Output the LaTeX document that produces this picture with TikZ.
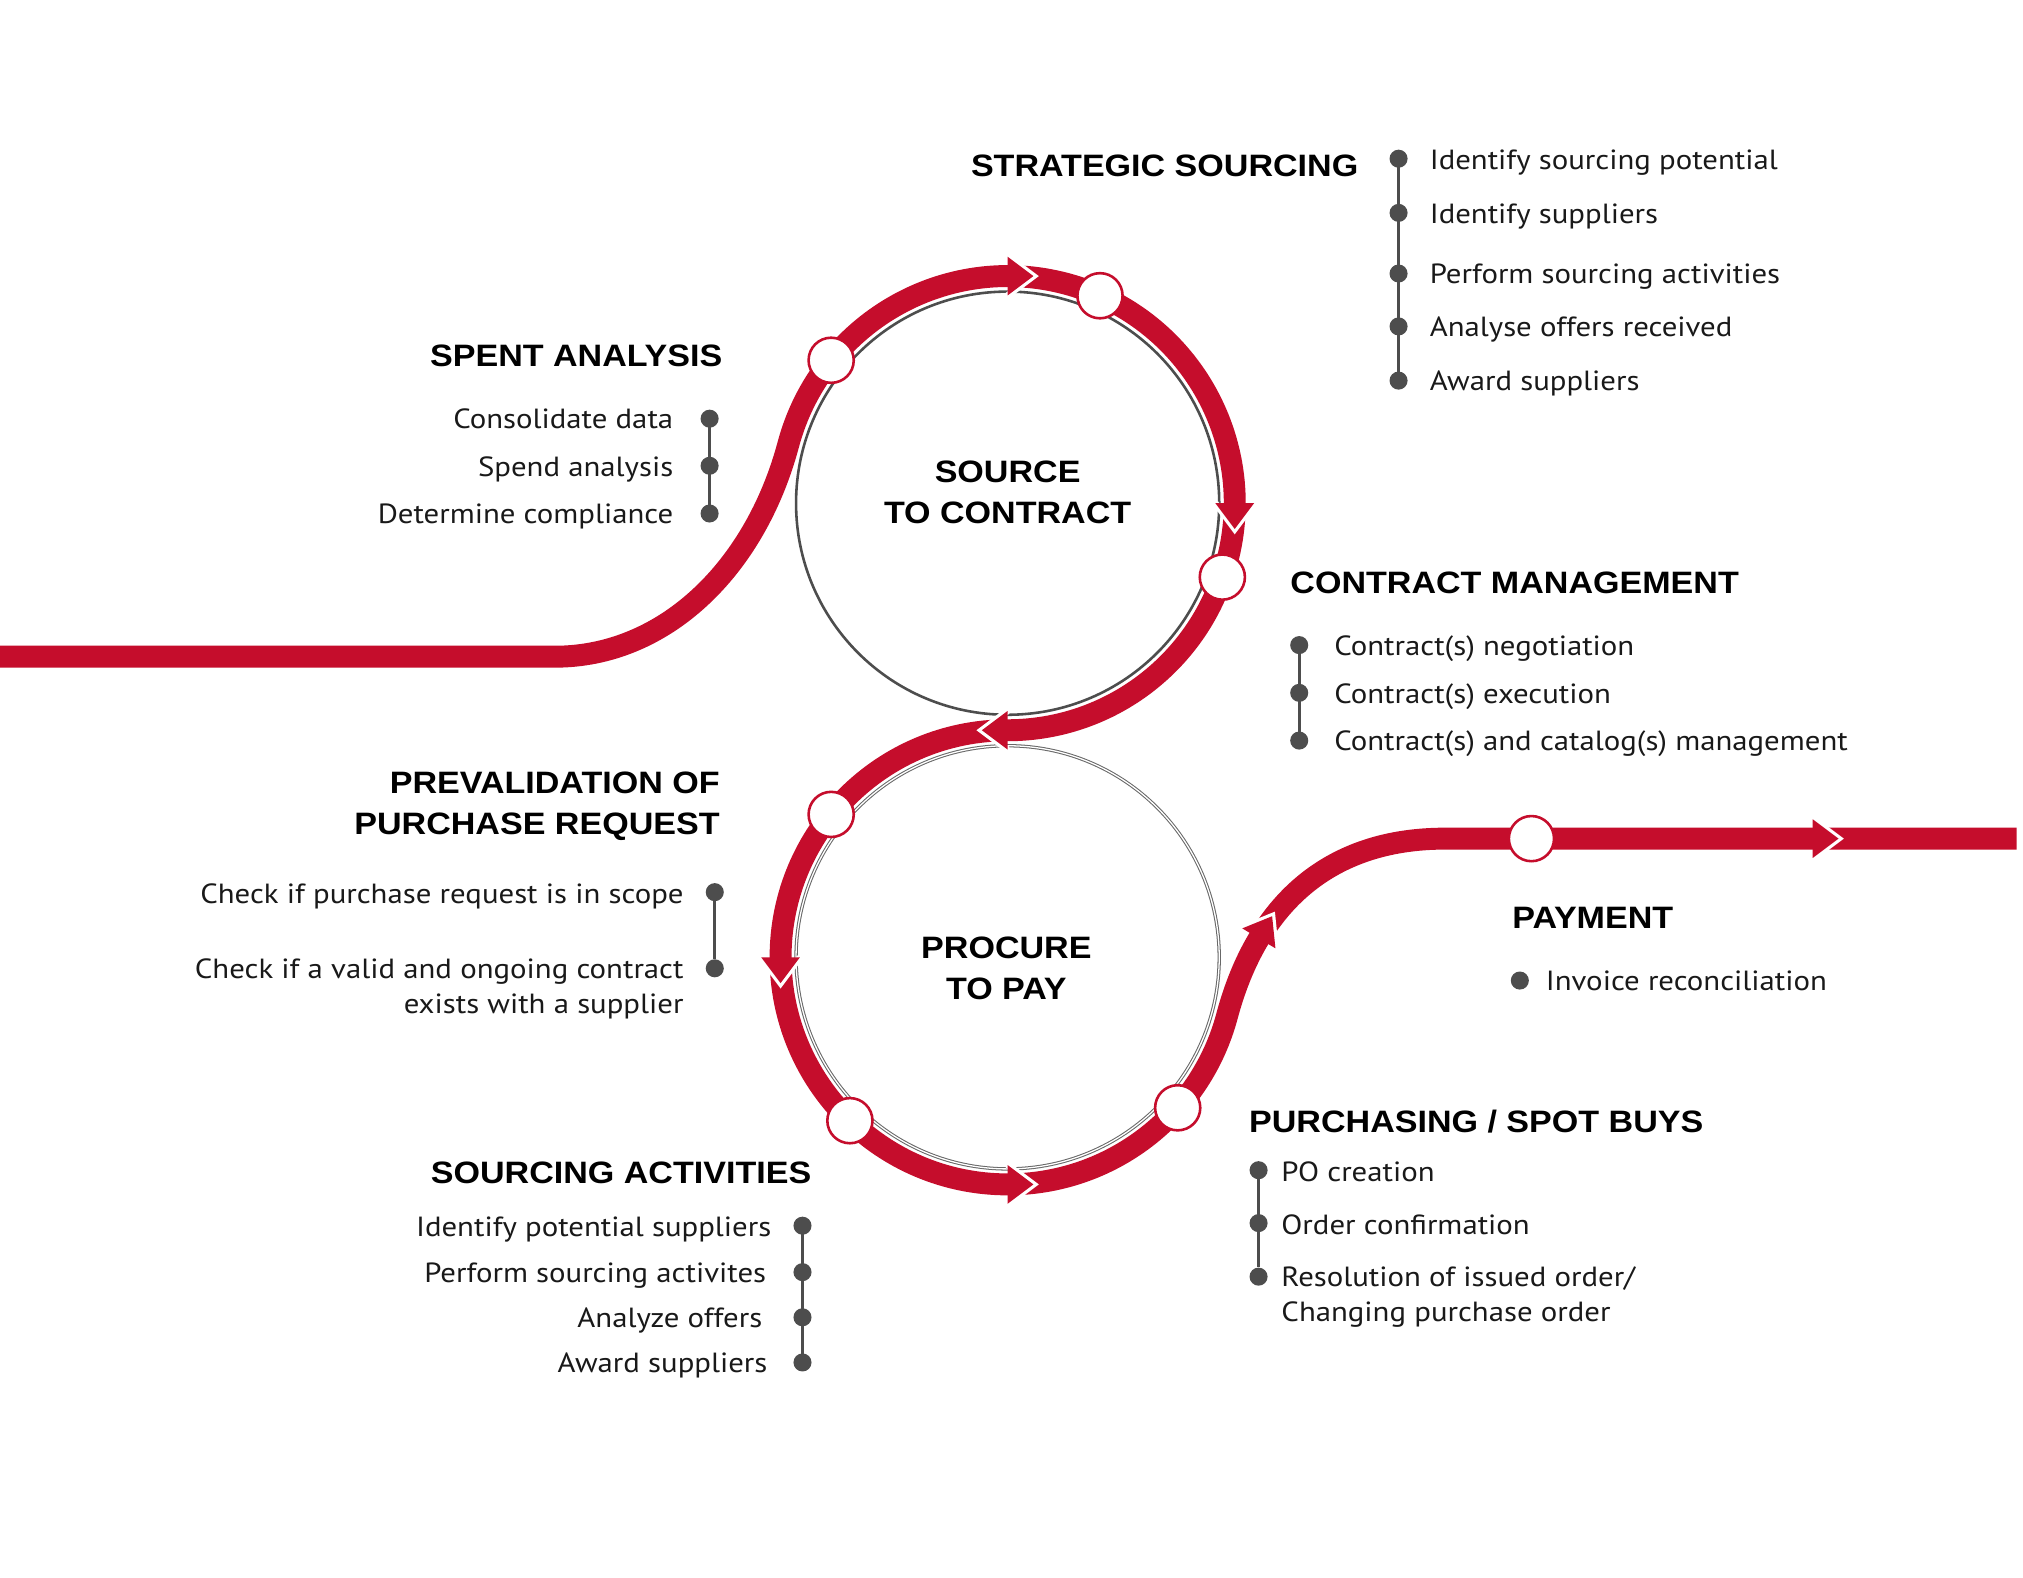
\documentclass[tikz,border=0pt]{standalone}
\usepackage{fontspec}
\setmainfont{PT Sans}[FakeStretch=1.11]
\newfontfamily\headfont{Liberation Sans}[FakeStretch=1.1]
\definecolor{bandred}{HTML}{C50D2C}
\definecolor{dotgray}{HTML}{4D4D4D}
\begin{document}
\begin{tikzpicture}[x=1pt, y=-1pt,
  band/.style={bandred, line width=17, line join=round},
  stop/.style={circle, draw=bandred, fill=white, line width=2, minimum size=35, inner sep=0},
  dot/.style={circle, fill=dotgray, minimum size=14, inner sep=0},
  stem/.style={dotgray, line width=2.6},
  head/.style={font=\headfont\bfseries\fontsize{24}{32}\selectfont, inner sep=0},
  item/.style={font=\fontsize{21.5}{27}\selectfont, text=black!90, inner sep=0}]
\useasboundingbox (0,0) rectangle (1568,1223);
\fill[white] (0,0) rectangle (1568,1223);

% the two cycles
\draw[dotgray, line width=2] (781,390) circle[radius=164];
\draw[dotgray!85, line width=0.8, double=white, double distance=1] (781,742) circle[radius=164];

% red flow line
\draw[band] (0,509) -- (430,509) .. controls (515,509) and (585.1,441.05) .. (611,344.45)
  arc[start angle=195, end angle=450, radius=176]
  arc[start angle=270, end angle=15, radius=176]
  .. controls (974.3,700.6) and (1030,650) .. (1120,650) -- (1563,650);

% arrow heads on the line
\foreach \x/\y/\r in {781/214/0, 957/390/-90, 781/566/180, 605/742/-90, 781/918/0, 975.7/727.3/59, 1405/650/0}
{
  \begin{scope}[shift={(\x,\y)}, rotate=\r]
    \draw[white, line width=5] (0,-15) -- (20,0) -- (0,15);
    \fill[bandred] (0,-15) -- (20,0) -- (0,15) -- cycle;
  \end{scope}
}

% stops
\node[stop] (spend) at ([shift={(781,390)}]219:176) {};
\node[stop] (strat) at ([shift={(781,390)}]294:176) {};
\node[stop] (contr) at ([shift={(781,390)}]19:176) {};
\node[stop] (preval) at ([shift={(781,742)}]219:176) {};
\node[stop] (sourc) at ([shift={(781,742)}]134:176) {};
\node[stop] (purch) at ([shift={(781,742)}]41.5:176) {};
\node[stop] (pay) at (1187,650) {};

% centre labels
\node[head, anchor=north, align=center] (stc) at (781,357) {SOURCE\\TO CONTRACT};
\node[head, anchor=north, align=center] (ptp) at (780,726) {PROCURE\\TO PAY};

% strategic sourcing
\node[head, anchor=base east] (ssh) at (1053,137) {STRATEGIC SOURCING};
\draw[stem] (1084,123) -- (1084,295);
\foreach \y/\t [count=\i] in {123/Identify sourcing potential, 165/Identify suppliers,
  212/Perform sourcing activities, 253/Analyse offers received, 295/Award suppliers}
{
  \node[dot] (ss\i) at (1084,\y) {};
  \node[item, anchor=base west] (sst\i) at (1108,\y+8) {\t};
}

% spent analysis
\node[head, anchor=base east] (sah) at (560,284) {SPENT ANALYSIS};
\draw[stem] (550,324.5) -- (550,398);
\foreach \y/\t [count=\i] in {324.5/Consolidate data, 361/Spend analysis, 398/Determine compliance}
{
  \node[dot] (sa\i) at (550,\y) {};
  \node[item, anchor=base east] (sat\i) at (522,\y+8) {\t};
}

% contract management
\node[head, anchor=base west] (cmh) at (1000,460) {CONTRACT MANAGEMENT};
\draw[stem] (1007,500) -- (1007,574);
\foreach \y/\t [count=\i] in {500/Contract(s) negotiation, 537/Contract(s) execution,
  574/Contract(s) and catalog(s) management}
{
  \node[dot] (cm\i) at (1007,\y) {};
  \node[item, anchor=base west] (cmt\i) at (1034,\y+8) {\t};
}

% prevalidation of purchase request
\node[head, anchor=north east, align=right] (pvh) at (558,598) {PREVALIDATION OF\\PURCHASE REQUEST};
\node[dot] (pv1) at (554,691.5) {};
\node[dot] (pv2) at (554,750.5) {};
\draw[stem] (pv1) -- (pv2);
\node[item, anchor=base east] (pvt1) at (530,700) {Check if purchase request is in scope};
\node[item, anchor=north east, align=right] (pvt2) at (530,743) {Check if a valid and ongoing contract\\exists with a supplier};

% payment
\node[head, anchor=base west] (pyh) at (1172,720) {PAYMENT};
\node[dot] (py1) at (1178,760) {};
\node[item, anchor=base west] (pyt1) at (1198,768) {Invoice reconciliation};

% purchasing / spot buys
\node[head, anchor=base west] (psh) at (968,878) {PURCHASING / SPOT BUYS};
\node[dot] (ps1) at (975.5,907) {};
\node[dot] (ps2) at (975.5,948) {};
\node[dot] (ps3) at (975.5,989.5) {};
\draw[stem] (ps1) -- (ps3);
\node[item, anchor=base west] (pst1) at (993,916) {PO creation};
\node[item, anchor=base west] (pst2) at (993,957) {Order confirmation};
\node[item, anchor=north west, align=left] (pst3) at (993,982) {Resolution of issued order/\\Changing purchase order};

% sourcing activities
\node[head, anchor=base east] (sch) at (629,917) {SOURCING ACTIVITIES};
\draw[stem] (622,950) -- (622,1056);
\foreach \y/\x/\t [count=\i] in {950/598/Identify potential suppliers, 986/594/Perform sourcing activites,
  1021/591/Analyze offers, 1056/595/Award suppliers}
{
  \node[dot] (sc\i) at (622,\y) {};
  \node[item, anchor=base east] (sct\i) at (\x,\y+8) {\t};
}
\end{tikzpicture}
\end{document}
